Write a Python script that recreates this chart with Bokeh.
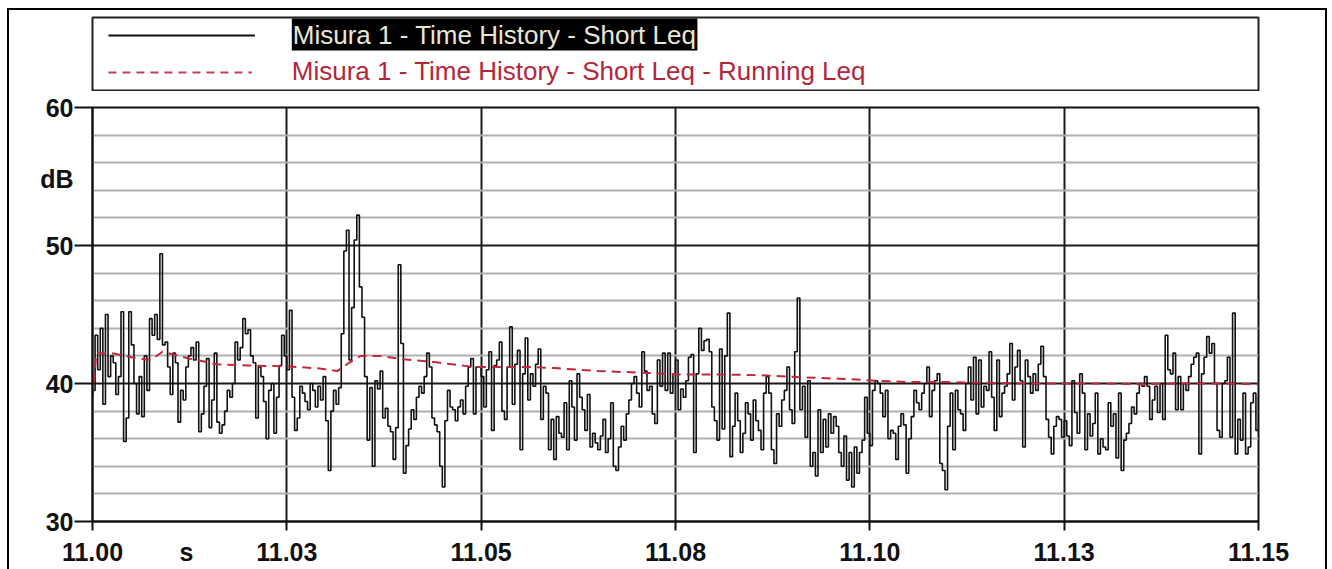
from bokeh.plotting import figure
from bokeh.models import Range1d, FixedTicker, Label
from bokeh.layouts import column
from bokeh.embed import file_html
from bokeh.resources import INLINE

# ---------------- data ----------------
SAMPLE_SECONDS = 2  # one Short Leq value every 2 s

# Short Leq, dB, one list per 2.5-minute stretch
leq_1100_1103 = [39.5, 43.5, 41.0, 44.0, 38.5, 45.0, 40.5, 42.0, 41.5, 39.2,
                 40.5, 45.2, 35.8, 37.5, 45.2, 42.8, 40.0, 37.8, 40.5, 37.6,
                 42.0, 39.5, 44.7, 43.5, 45.0, 43.2, 49.4, 42.8, 43.0, 41.2,
                 39.2, 42.2, 41.5, 37.2, 39.5, 38.8, 41.2, 42.0, 42.6, 41.7,
                 43.0, 36.5, 37.8, 39.8, 41.8, 36.8, 38.8, 42.2, 37.2, 36.4,
                 37.0, 38.0, 39.5, 39.0, 40.0, 43.0, 41.7, 42.6, 44.7, 43.6,
                 43.9, 42.0, 41.5, 37.5, 41.2, 40.5, 38.7, 36.0, 39.5, 40.0,
                 36.4, 39.0, 41.3, 43.5, 42.0]
leq_1103_1105 = [41.0, 45.3, 39.0, 36.6, 37.5, 39.8, 39.3, 38.7, 38.1, 40.0,
                 39.5, 38.3, 39.8, 38.8, 40.5, 37.3, 33.7, 38.0, 39.5, 38.5,
                 39.7, 43.6, 49.6, 51.1, 41.7, 45.5, 50.4, 52.2, 47.0, 44.8,
                 40.5, 35.9, 39.7, 34.0, 40.2, 39.6, 40.9, 37.5, 38.2, 36.9,
                 36.5, 34.5, 36.8, 48.6, 42.9, 33.5, 35.5, 36.7, 38.1, 37.4,
                 39.0, 39.8, 39.3, 40.5, 42.2, 41.2, 37.5, 37.0, 36.5, 34.0,
                 32.5, 37.3, 39.5, 38.3, 38.1, 37.3, 38.3, 38.8, 37.8, 39.8,
                 41.2, 41.8, 37.8, 41.2, 41.2]
leq_1105_1108 = [40.5, 38.3, 41.0, 42.3, 36.6, 41.3, 41.7, 43.0, 38.0, 37.4,
                 41.2, 44.1, 38.5, 41.4, 42.4, 35.2, 40.7, 43.3, 38.8, 40.7,
                 39.8, 41.4, 42.5, 37.4, 39.8, 39.3, 35.2, 37.4, 34.5, 37.6,
                 36.4, 36.1, 38.6, 35.2, 40.2, 38.3, 35.9, 40.7, 39.0, 38.1,
                 36.6, 39.2, 35.4, 36.4, 35.7, 35.2, 36.2, 37.4, 35.0, 36.0,
                 38.6, 34.0, 33.7, 35.4, 36.9, 35.9, 37.8, 38.8, 40.0, 40.5,
                 39.3, 38.3, 42.3, 40.9, 39.5, 39.8, 37.8, 37.1, 41.7, 39.8,
                 42.2, 39.5, 42.2, 39.3, 40.7]
leq_1108_1110 = [41.7, 38.1, 39.6, 39.0, 40.2, 41.9, 42.1, 35.0, 40.7, 44.0,
                 42.4, 43.1, 43.2, 42.3, 38.3, 37.3, 35.9, 42.5, 36.7, 42.0,
                 45.1, 34.7, 36.9, 39.3, 37.3, 35.0, 36.4, 38.6, 37.8, 35.9,
                 38.8, 37.3, 36.6, 35.2, 39.3, 40.5, 39.3, 35.2, 34.2, 37.8,
                 36.9, 38.8, 39.5, 41.2, 38.1, 37.1, 42.3, 46.2, 38.1, 39.8,
                 36.1, 40.2, 34.0, 35.0, 33.3, 38.1, 35.0, 37.4, 35.4, 37.8,
                 36.4, 37.6, 36.9, 35.0, 34.0, 36.2, 33.0, 35.0, 32.5, 35.4,
                 33.5, 35.0, 35.9, 39.0, 36.4]
leq_1110_1113 = [35.5, 39.5, 40.2, 40.0, 39.3, 37.6, 39.5, 36.0, 36.6, 36.4,
                 34.5, 36.9, 37.8, 37.0, 33.5, 36.0, 37.6, 39.5, 38.6, 38.1,
                 39.3, 40.0, 41.2, 37.6, 39.5, 40.2, 40.7, 34.2, 33.7, 32.3,
                 36.9, 39.3, 35.2, 39.5, 38.1, 37.8, 36.6, 40.0, 41.2, 38.8,
                 41.9, 37.8, 41.7, 38.3, 39.8, 39.5, 42.3, 39.0, 36.6, 41.7,
                 37.6, 39.3, 39.8, 40.7, 42.9, 38.8, 41.2, 42.4, 40.2, 35.4,
                 41.7, 40.5, 39.3, 40.7, 39.5, 41.4, 42.7, 40.5, 37.4, 36.1,
                 34.9, 36.9, 37.6, 37.4, 36.1]
leq_1113_1115 = [37.3, 36.2, 35.5, 40.2, 37.9, 36.4, 40.7, 39.3, 35.2, 37.8,
                 36.2, 37.1, 39.3, 34.9, 36.0, 35.4, 35.2, 38.6, 36.9, 37.8,
                 34.6, 39.3, 33.7, 35.9, 36.4, 37.1, 38.3, 37.8, 39.3, 40.0,
                 39.8, 40.5, 39.8, 37.4, 38.8, 39.8, 37.9, 40.0, 37.4, 43.5,
                 41.0, 40.7, 42.2, 38.1, 40.5, 38.1, 40.0, 39.5, 40.5, 41.4,
                 41.9, 42.2, 34.9, 40.7, 41.9, 43.4, 42.2, 42.9, 40.0, 36.6,
                 36.1, 40.0, 40.2, 41.9, 36.1, 45.1, 34.9, 37.4, 35.9, 39.3,
                 34.9, 35.4, 38.6, 39.3, 36.6, 39.0]

short_leq = (leq_1100_1103 + leq_1103_1105 + leq_1105_1108 +
             leq_1108_1110 + leq_1110_1113 + leq_1113_1115)
short_t_min = [i * SAMPLE_SECONDS / 60 for i in range(len(short_leq))]

# Running Leq (minutes after 11:00, dB)
run_t_min = [0, 0.05, 0.25, 0.5, 0.75, 0.9, 1.25, 1.6, 2.0, 2.5, 2.9, 3.15,
             3.3, 3.45, 3.7, 4.0, 4.4, 4.9, 5.6, 6.0, 6.5, 7.0, 7.6, 8.1,
             8.6, 9.1, 9.6, 10.1, 10.5, 11.0, 11.5, 12.0, 12.5, 13.0, 13.5,
             14.0, 14.5, 15.0]
run_leq = [39.0, 42.2, 42.2, 41.9, 41.7, 42.3, 41.8, 41.4, 41.3, 41.25,
           41.1, 40.9, 41.5, 42.0, 42.0, 41.75, 41.55, 41.2, 41.2, 41.1,
           40.9, 40.8, 40.65, 40.65, 40.6, 40.45, 40.35, 40.2, 40.1, 40.1,
           40.05, 40.0, 40.0, 40.0, 39.95, 40.0, 40.0, 39.95]

x_tick_minutes = [0, 2.5, 5, 7.5, 10, 12.5, 15]
x_tick_labels = ["11.00", "11.03", "11.05", "11.08", "11.10", "11.13", "11.15"]
x_unit_pos, x_unit = 1.21, "s"
y_major_ticks = [30, 40, 50, 60]
y_minor_ticks = [32, 34, 36, 38, 42, 44, 46, 48, 52, 54, 56, 58]
y_unit_pos, y_unit = 54.8, "dB"

series_names = ["Misura 1 - Time History - Short Leq",
                "Misura 1 - Time History - Short Leq - Running Leq"]

# ---------------- styling ----------------
FONT = "Liberation Sans"
RED = "#c0283c"
INK = "#111111"
W = 1332

# ---------------- legend panel ----------------
leg = figure(width=W, height=91, x_range=Range1d(0, 1170), y_range=Range1d(74, 0),
             output_backend="svg", toolbar_location=None,
             x_axis_location=None, y_axis_location=None,
             min_border_left=92, min_border_right=70,
             min_border_top=17, min_border_bottom=0)
leg.xgrid.visible = False
leg.ygrid.visible = False
leg.outline_line_color = "#222222"
leg.outline_line_width = 2
leg.background_fill_color = "white"
leg.border_fill_color = None

leg.segment(x0=[16], y0=[18], x1=[163], y1=[18], line_color=INK, line_width=2)
leg.segment(x0=[16], y0=[55], x1=[160], y1=[55], line_color="#c4405a", line_width=2,
            line_dash="8 6")
leg.add_layout(Label(x=200, y=17, text=series_names[0], text_font=FONT,
                     text_font_size="26px", text_color="#ece6d6",
                     text_baseline="middle", background_fill_color="black",
                     padding=1))
leg.add_layout(Label(x=200, y=53, text=series_names[1], text_font=FONT,
                     text_font_size="26px", text_color="#b3263a",
                     text_baseline="middle"))

# ---------------- main chart ----------------
p = figure(width=W, height=478, x_range=Range1d(0, 15), y_range=Range1d(30, 60),
           output_backend="svg", toolbar_location=None,
           min_border_left=92, min_border_right=74,
           min_border_top=16, min_border_bottom=48)
p.border_fill_color = None

p.step(short_t_min, short_leq, mode="after", line_color=INK, line_width=1.6)
p.line(run_t_min, run_leq, line_color=RED, line_width=2, line_dash="9 6")

# axes: unit labels sit in the tick-label rows; tick marks come from minor ticks
x_ticks_all = x_tick_minutes + [x_unit_pos]
p.xaxis.ticker = FixedTicker(ticks=x_ticks_all, minor_ticks=x_tick_minutes)
p.xaxis.major_label_overrides = dict(zip(x_ticks_all, x_tick_labels + [x_unit]))
p.xgrid.ticker = FixedTicker(ticks=x_tick_minutes)

y_ticks_all = y_major_ticks + [y_unit_pos]
p.yaxis.ticker = FixedTicker(ticks=y_ticks_all, minor_ticks=y_major_ticks)
p.yaxis.major_label_overrides = {y_unit_pos: y_unit}
p.ygrid.ticker = FixedTicker(ticks=y_major_ticks, minor_ticks=y_minor_ticks)

for ax in (p.xaxis, p.yaxis):
    ax.axis_line_color = INK
    ax.axis_line_width = 2
    ax.major_tick_out = 0
    ax.major_tick_in = 0
    ax.major_tick_line_color = None
    ax.minor_tick_line_color = INK
    ax.minor_tick_line_width = 2
    ax.minor_tick_in = 0
    ax.major_label_text_font = FONT
    ax.major_label_text_font_style = "bold"
    ax.major_label_text_color = INK

p.xaxis.minor_tick_out = 9
p.xaxis.major_label_standoff = 7
p.xaxis.major_label_text_font_size = "25px"
p.yaxis.minor_tick_out = 18
p.yaxis.major_label_standoff = 1
p.yaxis.major_label_text_font_size = "25px"

p.xgrid.grid_line_color = "#1a1a1a"
p.xgrid.grid_line_width = 2
p.ygrid.grid_line_color = "#1a1a1a"
p.ygrid.grid_line_width = 2
p.ygrid.minor_grid_line_color = "#b0b0b0"
p.ygrid.minor_grid_line_width = 2

p.outline_line_color = INK
p.outline_line_width = 2

# page frame lines (top, left, right) like the scanned original
frame_shadow = ("inset 7px 8px 0 0 #fff, inset -5px 0 0 0 #fff, "
                "inset 9px 10px 0 0 #000, inset -7px 0 0 0 #000")
layout = column(leg, p, spacing=0, styles={"box-shadow": frame_shadow})

open("out.html", "w").write(file_html(layout, INLINE))
